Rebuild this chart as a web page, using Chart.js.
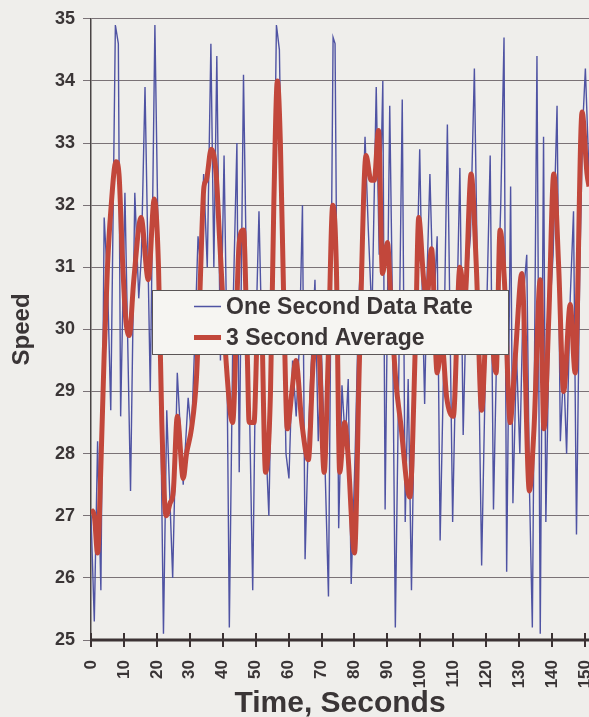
<!DOCTYPE html>
<html>
<head>
<meta charset="utf-8">
<script src="https://cdn.jsdelivr.net/npm/chart.js@4.4.1/dist/chart.umd.min.js"></script>
<style>
  html, body { margin: 0; padding: 0; background: #efeeeb; }
  #wrap { width: 589px; height: 717px; position: relative; }
</style>
</head>
<body>
<div id="wrap"><canvas id="c" width="589" height="717"></canvas></div>
<script>
// ---- Data ----
const xTickLabels = [0, 10, 20, 30, 40, 50, 60, 70, 80, 90, 100, 110, 120, 130, 140, 150];
const yTickLabels = [25, 26, 27, 28, 29, 30, 31, 32, 33, 34, 35];

// One Second Data Rate (time in seconds, speed)
const blueT = [0, 1, 2, 3, 4, 5, 6, 7.4, 8.3, 9, 10.3, 12, 13.3, 14.5, 15.3, 16.4, 18, 19.4, 20.5, 21.2, 22, 23, 24.8,
  26.2, 28, 29.5, 30.5, 31.5, 32.5, 33.3, 34.2, 35.3, 36.4, 37.3, 38.2, 39.3, 40.4, 41.2, 42, 43.2, 44.3, 45, 46.3,
  47.3, 48.2, 49.1, 50.1, 51, 52, 53, 54, 55.2, 56.3, 57.2, 58.2, 59.2, 60.1, 61.2, 62.3, 63.3, 64.2, 65, 66, 67,
  68, 69, 70, 71, 72.1, 73.5, 74.1, 75.2, 76.2, 77.2, 78.1, 79, 80.2, 81.3, 82.3, 83.2, 84.2, 85.3, 86.6, 87.5,
  88.6, 89.3, 90.7, 91.5, 92.4, 93.5, 94.5, 95.4, 96.3, 97.3, 98.5, 99.8, 100.6, 101.3, 102.1, 102.9, 104, 105.1,
  106, 107.1, 108.2, 109.8, 110.9, 112, 113, 114.1, 115.2, 116.4, 117.5, 118.6, 119.8, 121.2, 122.2, 123.3, 124.4,
  125.4, 126.2, 127.4, 128.1, 129.2, 130.2, 131.2, 132.3, 133.1, 134, 135.4, 136.4, 137.4, 138.1, 139.2, 140.3,
  141.5, 142.5, 143.5, 144.4, 145.5, 146.5, 147.4, 148.4, 149.3, 150.1, 151.2];
const blueV = [27.0, 25.3, 28.2, 25.8, 31.8, 30.8, 28.7, 34.9, 34.6, 28.6, 32.2, 27.4, 32.2, 30.5, 31.2, 33.9, 29.0, 34.9, 31.0, 28.5, 25.1, 28.7, 26.0,
  29.3, 27.5, 28.9, 28.3, 29.8, 31.5, 31.0, 32.5, 31.0, 34.6, 31.0, 34.4, 29.5, 32.8, 30.0, 25.2, 30.5, 33.0, 27.7, 34.1,
  30.5, 28.5, 25.8, 30.0, 31.9, 29.5, 28.3, 27.0, 30.5, 34.9, 34.5, 31.0, 28.0, 27.6, 29.5, 28.6, 29.8, 32.0, 26.3, 28.3, 29.6,
  30.8, 28.2, 29.6, 27.9, 25.7, 34.7, 34.6, 26.8, 29.1, 28.2, 29.2, 25.9, 28.0, 30.5, 31.5, 33.1, 31.6, 30.2, 33.9, 31.2,
  34.0, 27.1, 33.6, 30.5, 25.2, 29.5, 33.7, 26.9, 29.2, 25.8, 29.8, 32.9, 30.5, 28.8, 31.0, 32.5, 30.3, 31.5,
  26.6, 29.5, 33.3, 26.9, 29.8, 32.6, 28.3, 30.8, 31.5, 34.2, 30.2, 26.2, 29.5, 32.8, 27.1, 30.0, 32.0,
  34.7, 26.1, 32.3, 27.2, 29.6, 28.0, 30.5, 31.2, 27.5, 25.2, 34.4, 25.1, 33.1, 26.9, 30.2, 31.2,
  33.6, 28.2, 29.4, 28.0, 30.5, 31.9, 26.7, 31.0, 33.3, 34.2, 32.5];

// 3 Second Average (time in seconds, speed)
const redT = [0, 1, 2, 3, 4, 5, 6, 7.6, 8.5, 9.5, 10.5, 11.6, 13, 15.2, 17.4, 19.2, 20.5, 21.5, 22.8, 24, 25, 26.2, 28, 29,
  30.5, 32, 33, 34.3, 35, 36.5, 38, 39, 40, 41, 43, 45, 46.3, 47.5, 48, 49.5, 50.5, 51.5, 53, 54.5, 55.5, 56.6, 57.5,
  58.5, 59.6, 61, 62.2, 64, 66, 67.5, 69, 70.8, 72, 73.4, 74.5, 75.5, 77, 78, 80, 81.5, 83.5, 85, 86, 87.3, 88.5, 90,
  91, 92.5, 94, 96.8, 98.5, 99.5, 101, 102, 103.4, 105.1, 106.5, 108, 110, 112, 113.5, 115.4, 117, 118.6, 120.5, 123,
  124.2, 125.5, 127.3, 128, 129, 130.8, 133.1, 134.5, 136.4, 137.5, 139, 140.5, 142, 143.5, 145.5, 147, 149.1, 150.6, 151.2];
const redV = [27.1, 27.0, 26.4, 27.8, 29.6, 31.0, 31.9, 32.7, 32.5, 31.2, 30.2, 29.9, 30.8, 31.8, 30.8, 32.1, 31.0, 28.5, 27.0, 27.2, 27.4, 28.6, 27.6, 28.0,
  28.4, 29.2, 30.5, 32.3, 32.4, 32.9, 32.5, 31.5, 30.5, 29.5, 28.5, 31.4, 31.6, 29.5, 28.5, 28.5, 30.0, 30.6, 27.7, 29.0, 32.0, 34.0, 33.0,
  30.5, 28.4, 29.0, 29.5, 28.5, 27.9, 29.5, 29.8, 27.7, 29.5, 32.0, 31.0, 27.7, 28.5, 28.0, 26.4, 29.5, 32.8, 32.4, 32.4, 33.2, 30.9, 31.4,
  30.5, 29.2, 28.5, 27.3, 29.8, 31.8, 30.8, 30.5, 31.3, 29.3, 29.8, 28.9, 28.6, 31.0, 30.5, 32.5, 31.0, 28.7, 30.5, 29.3,
  31.6, 30.8, 28.5, 28.9, 29.7, 30.9, 27.4, 28.4, 30.8, 28.4, 30.2, 32.5, 31.0, 29.0, 30.4, 29.3, 33.5, 32.5, 32.3];

const BLUE = '#4f53a3';
const RED = '#c2473b';
const TEXT = '#3a3536';
const FONT = '"Liberation Sans", Arial, Helvetica, sans-serif';

const bgPlugin = {
  id: 'bg',
  beforeDraw(chart) {
    const ctx = chart.ctx;
    ctx.save();
    ctx.fillStyle = '#efeeeb';
    ctx.fillRect(0, 0, chart.width, chart.height);
    ctx.restore();
  }
};

const axisPlugin = {
  id: 'axisDeco',
  afterDatasetsDraw(chart) {
    const ctx = chart.ctx, x = chart.scales.x, area = chart.chartArea;
    ctx.save();
    ctx.strokeStyle = '#3b3233';
    ctx.lineWidth = 3;
    ctx.beginPath();
    ctx.moveTo(area.left - 1, area.bottom);
    ctx.lineTo(area.right, area.bottom);
    ctx.stroke();
    ctx.lineWidth = 2;
    x.ticks.forEach(t => {
      const px = Math.round(x.getPixelForValue(t.value));
      ctx.beginPath();
      ctx.moveTo(px, area.bottom - 7);
      ctx.lineTo(px, area.bottom + 7);
      ctx.stroke();
    });
    ctx.restore();
  }
};

const legendPlugin = {
  id: 'boxLegend',
  afterDraw(chart) {
    const ctx = chart.ctx;
    const x0 = 152, y0 = 290, w = 356, h = 64;
    ctx.save();
    ctx.fillStyle = '#f6f5f2';
    ctx.fillRect(x0, y0, w, h);
    ctx.strokeStyle = '#5a5556';
    ctx.lineWidth = 1;
    ctx.strokeRect(x0 + 0.5, y0 + 0.5, w, h);
    const rows = [306.5, 337.5];
    chart.data.datasets.forEach((ds, i) => {
      const y = rows[i];
      ctx.strokeStyle = ds.borderColor;
      ctx.lineWidth = i === 0 ? 1.5 : 5;
      ctx.beginPath();
      ctx.moveTo(194, y);
      ctx.lineTo(221, y);
      ctx.stroke();
      ctx.fillStyle = TEXT;
      ctx.font = 'bold 23px ' + FONT;
      ctx.textBaseline = 'middle';
      ctx.textAlign = 'left';
      ctx.fillText(ds.label, 226, y + 1);
    });
    ctx.restore();
  }
};

new Chart(document.getElementById('c'), {
  type: 'line',
  data: {
    datasets: [
      {
        label: 'One Second Data Rate',
        data: blueT.map((t, i) => ({ x: t, y: blueV[i] })),
        borderColor: BLUE,
        borderWidth: 1.4,
        pointRadius: 0,
        tension: 0,
        order: 2
      },
      {
        label: '3 Second Average',
        data: redT.map((t, i) => ({ x: t, y: redV[i] })),
        borderColor: RED,
        borderWidth: 5,
        pointRadius: 0,
        cubicInterpolationMode: 'monotone',
        order: 1
      }
    ]
  },
  options: {
    responsive: false,
    animation: false,
    devicePixelRatio: 1,
    layout: { padding: { top: 15, right: 0, bottom: 0, left: 0 } },
    plugins: { legend: { display: false }, tooltip: { enabled: false } },
    scales: {
      x: {
        type: 'linear',
        min: 0,
        max: 151.2,
        afterBuildTicks(scale) { scale.ticks = xTickLabels.map(v => ({ value: v })); },
        afterFit(scale) { scale.height = 77; scale.paddingLeft = 0; scale.paddingRight = 0; },
        ticks: {
          autoSkip: false,
          minRotation: 90,
          maxRotation: 90,
          padding: 12,
          color: TEXT,
          font: { family: FONT, size: 17, weight: 'bold' }
        },
        grid: { display: false },
        border: { display: false },
        title: {
          display: true,
          text: 'Time, Seconds',
          color: TEXT,
          font: { family: FONT, size: 30, weight: 'bold' },
          padding: { top: 0, bottom: -5 }
        }
      },
      y: {
        min: 25,
        max: 35,
        afterBuildTicks(scale) { scale.ticks = yTickLabels.map(v => ({ value: v })); },
        afterFit(scale) { scale.width = 91; },
        ticks: {
          padding: 8,
          color: TEXT,
          font: { family: FONT, size: 18, weight: 'bold' }
        },
        grid: { color: '#7a7276', lineWidth: 1, tickLength: 8 },
        border: { display: true, color: '#4a4445', width: 1.5 },
        title: {
          display: true,
          text: 'Speed',
          color: TEXT,
          font: { family: FONT, size: 24, weight: 'bold' },
          padding: { top: 8, bottom: 0 }
        }
      }
    }
  },
  plugins: [bgPlugin, axisPlugin, legendPlugin]
});
</script>
</body>
</html>
